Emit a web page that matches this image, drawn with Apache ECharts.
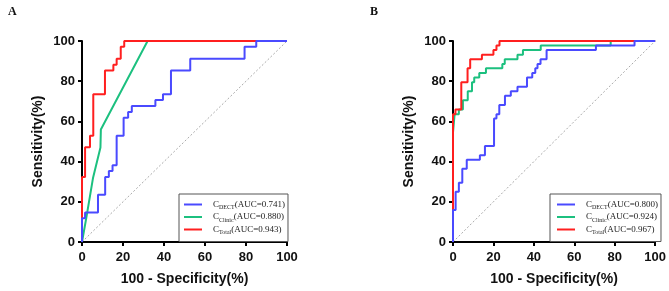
<!DOCTYPE html>
<html>
<head>
<meta charset="utf-8">
<script src="https://cdn.jsdelivr.net/npm/echarts@6/dist/echarts.min.js"></script>
<style>
  html, body { margin: 0; padding: 0; background: #fff; }
  #chart { width: 669px; height: 291px; }
</style>
</head>
<body>
<div id="chart"></div>
<script>
// ROC points, 100 - specificity (%) vs sensitivity (%)
// panel A
const fprA_DECT = [0, 0, 1.5, 7.8, 11.3, 13.1, 14.9, 16.9, 20.3, 22.5, 24.3, 35.8, 39.5, 43.4, 52.8, 79.3, 85, 100]
const tprA_DECT = [0, 11.8, 14.7, 23.5, 32.4, 35.3, 38.2, 52.9, 61.8, 64.7, 67.6, 70.6, 73.5, 85.3, 91.2, 97.1, 100, 100]
const fprA_Clinic = [0, 2.1, 5.4, 9, 9.2, 32, 100]
const tprA_Clinic = [0, 12, 32, 47, 56, 100, 100]
const fprA_Total = [0, 0, 1.5, 3.9, 5.5, 11.2, 15.3, 16.9, 18.9, 20.6, 100]
const tprA_Total = [0, 32.4, 47.1, 52.9, 73.5, 85.3, 88.2, 91.2, 97.1, 100, 100]
// panel B
const fprB_DECT = [0, 0, 1.3, 2.9, 4.6, 6.8, 13.3, 15.8, 20.3, 21.5, 22.9, 25.7, 28.6, 31.9, 36.6, 39.2, 40.7, 41.8, 43.3, 46.3, 70.7, 89.8, 100]
const tprB_DECT = [0, 15.9, 25, 29.5, 36.4, 40.9, 43.2, 47.7, 61.4, 63.6, 68.2, 72.7, 75, 77.3, 81.8, 84.1, 86.4, 88.6, 90.9, 95.5, 97.7, 100, 100]
const fprB_Clinic = [0, 0, 0.8, 2.9, 4.9, 7.3, 9.4, 10.5, 13, 16.3, 24.4, 25.6, 31.9, 34.6, 43.4, 78, 100]
const tprB_Clinic = [0, 54.5, 63.6, 65.9, 70.5, 75, 79.5, 81.8, 84.1, 86.4, 88.6, 90.9, 93.2, 95.5, 97.7, 100, 100]
const fprB_Total = [0, 0, 1.2, 4.1, 7.2, 8.5, 14.3, 20, 21.5, 23, 100]
const tprB_Total = [0, 63.6, 65.9, 79.5, 86.4, 90.9, 93.2, 95.5, 97.7, 100, 100]

const aucA = { DECT: '0.741', Clinic: '0.880', Total: '0.943' }
const aucB = { DECT: '0.800', Clinic: '0.924', Total: '0.967' }
const models = ['DECT', 'Clinic', 'Total']
const colors = { DECT: '#4a4aff', Clinic: '#1cc07f', Total: '#ff1f1f' }

const pairs = (xs, ys) => xs.map((x, i) => [x, ys[i]])

const chart = echarts.init(document.getElementById('chart'))

const sans = 'Liberation Sans, Arial, sans-serif'
const serif = 'Liberation Serif, Times New Roman, serif'

function xAxis(gridIndex) {
  return {
    type: 'value', gridIndex, min: 0, max: 100, interval: 20,
    name: '100 - Specificity(%)', nameLocation: 'middle', nameGap: 30,
    nameTextStyle: { fontFamily: sans, fontWeight: 'bold', fontSize: 14, color: '#111' },
    axisLine: { show: true, lineStyle: { color: '#000', width: 2 } },
    axisTick: { show: true, length: 4, lineStyle: { color: '#000', width: 2 } },
    axisLabel: { fontFamily: sans, fontWeight: 'bold', fontSize: 13, color: '#111', margin: 9 },
    splitLine: { show: false },
  }
}

function yAxis(gridIndex) {
  return {
    type: 'value', gridIndex, min: 0, max: 100, interval: 20,
    name: 'Sensitivity(%)', nameLocation: 'middle', nameGap: 37,
    nameTextStyle: { fontFamily: sans, fontWeight: 'bold', fontSize: 14, color: '#111' },
    axisLine: { show: true, lineStyle: { color: '#000', width: 2 } },
    axisTick: { show: true, length: 4, lineStyle: { color: '#000', width: 2 } },
    axisLabel: { fontFamily: sans, fontWeight: 'bold', fontSize: 13, color: '#111', margin: 7 },
    splitLine: { show: false },
  }
}

function legend(panel, left, auc, padLeft) {
  return {
    orient: 'vertical', left, top: 194,
    data: models.map(m => panel + '_' + m),
    icon: 'rect', itemWidth: 18, itemHeight: 2, itemGap: 2,
    borderColor: '#555', borderWidth: 1, borderRadius: 0,
    padding: [6, 3, 6, padLeft],
    backgroundColor: '#fff',
    selectedMode: false,
    formatter: name => {
      const m = name.split('_')[1]
      return `{m|C}{s|${m}}{m|(AUC=${auc[m]})}`
    },
    textStyle: {
      padding: [0, 0, 0, 6],
      rich: {
        m: { fontFamily: serif, fontSize: 9, color: '#222', lineHeight: 12 },
        s: { fontFamily: serif, fontSize: 6, color: '#222', verticalAlign: 'bottom', lineHeight: 12, padding: [3, 0, 0, 0] },
      },
    },
  }
}

function rocSeries(panel, xi, m, xs, ys, step) {
  return {
    name: panel + '_' + m, type: 'line',
    xAxisIndex: xi, yAxisIndex: xi,
    data: pairs(xs, ys),
    step: step ? 'end' : false,
    symbol: 'none', silent: true,
    lineStyle: { color: colors[m], width: 2 },
    itemStyle: { color: colors[m] },
  }
}

function diagonal(xi) {
  return {
    type: 'line', xAxisIndex: xi, yAxisIndex: xi,
    data: [[0, 0], [100, 100]], symbol: 'none', silent: true,
    lineStyle: { color: '#aaa', width: 1, type: [2, 2] },
  }
}

chart.setOption({
  animation: false,
  title: [
    { text: 'A', left: 3, top: 1, textStyle: { fontFamily: serif, fontWeight: 'bold', fontSize: 12, color: '#111' } },
    { text: 'B', left: 365, top: 1, textStyle: { fontFamily: serif, fontWeight: 'bold', fontSize: 12, color: '#111' } },
  ],
  grid: [
    { left: 82, top: 41, width: 205, height: 205 },
    { left: 453, top: 41, width: 205, height: 205 },
  ],
  xAxis: [xAxis(0), xAxis(1)],
  yAxis: [yAxis(0), yAxis(1)],
  legend: [legend('A', 179, aucA, 5), legend('B', 550, aucB, 7)],
  series: [
    diagonal(0),
    rocSeries('A', 0, 'Clinic', fprA_Clinic, tprA_Clinic, false),
    rocSeries('A', 0, 'Total', fprA_Total, tprA_Total, true),
    rocSeries('A', 0, 'DECT', fprA_DECT, tprA_DECT, true),
    diagonal(1),
    rocSeries('B', 1, 'Clinic', fprB_Clinic, tprB_Clinic, true),
    rocSeries('B', 1, 'Total', fprB_Total, tprB_Total, true),
    rocSeries('B', 1, 'DECT', fprB_DECT, tprB_DECT, true),
  ],
})

window.addEventListener('resize', () => chart.resize())
</script>
</body>
</html>
